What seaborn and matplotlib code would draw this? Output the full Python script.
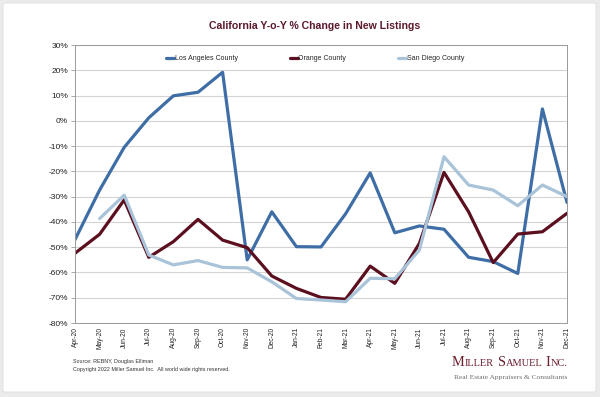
import numpy as np
import pandas as pd
import seaborn as sns
import matplotlib
matplotlib.use("Agg")
import matplotlib.pyplot as plt
from matplotlib.patches import FancyBboxPatch
from matplotlib.lines import Line2D

months = ["Apr-20", "May-20", "Jun-20", "Jul-20", "Aug-20", "Sep-20", "Oct-20",
          "Nov-20", "Dec-20", "Jan-21", "Feb-21", "Mar-21", "Apr-21", "May-21",
          "Jun-21", "Jul-21", "Aug-21", "Sep-21", "Oct-21", "Nov-21", "Dec-21"]
la = [-47, -27.4, -10.5, 1.2, 9.9, 11.3, 19.2, -55, -36, -49.8, -49.9, -36.8,
      -20.6, -44.3, -41.6, -42.9, -54, -55.7, -60.4, 4.7, -32.3]
orange = [-52.4, -44.9, -31.3, -54, -47.8, -39, -47.2, -50.2, -61.4, -66.3,
          -69.9, -70.6, -57.5, -64.3, -48.5, -20.4, -36, -56.1, -44.8, -43.9, -36.6]
sandiego = [np.nan, -38.7, -29.4, -53.1, -57, -55.3, -58, -58.2, -63.7, -70.3,
            -70.9, -71.6, -62.3, -62.5, -51.1, -14.2, -25.4, -27.4, -33.6, -25.4, -30]
series_names = ["Los Angeles County", "Orange County", "San Diego County"]
yticks = list(range(-80, 31, 10))

colors = {"Los Angeles County": "#3e6ea5", "Orange County": "#5b0f1f",
          "San Diego County": "#a9c3d8"}

rows = []
for name, vals in zip(series_names, [la, orange, sandiego]):
    for i, (m, v) in enumerate(zip(months, vals)):
        rows.append({"idx": i, "month": m, "value": v, "series": name})
df = pd.DataFrame(rows)

sns.set_theme(style="white")
plt.rcParams['font.family'] = ['Liberation Sans', 'DejaVu Sans']

W, H = 600, 397
fig = plt.figure(figsize=(W / 100, H / 100), dpi=100)
fig.patch.set_facecolor("#ebebeb")
bg = FancyBboxPatch((3 / W, 1 - 392 / H), 593 / W, 389 / H,
                    boxstyle="round,pad=0,rounding_size=0.004",
                    transform=fig.transFigure, facecolor="white", edgecolor="#dedede",
                    linewidth=0.6, zorder=-10)
fig.patches.append(bg)

ax = fig.add_axes([75 / W, 1 - 323 / H, (567 - 75) / W, (323 - 45) / H])
ax.set_facecolor("none")
sns.lineplot(data=df, x="idx", y="value", hue="series", palette=colors,
             linewidth=2.3, ax=ax, legend=False, sort=False)

ax.set_xlim(0, len(months) - 1)
ax.set_ylim(-80, 30)
ax.set_yticks(yticks)
ax.set_yticklabels([f"{t}%" for t in yticks], fontsize=6, color="#222222")
ax.set_xticks(range(len(months)))
ax.set_xticklabels(months, rotation=90, fontsize=4.8, color="#222222")
ax.set_xlabel("")
ax.set_ylabel("")
for t in yticks:
    ax.axhline(t, color="#d4d4d4", linewidth=0.8, zorder=0)
for s in ax.spines.values():
    s.set_color("#9a9a9a")
    s.set_linewidth(0.7)
ax.tick_params(axis="y", length=3, width=0.6, color="#9a9a9a", pad=2, left=True)
ax.tick_params(axis="x", length=0, pad=3)

handles = [Line2D([0], [0], color=colors[n], linewidth=2.3) for n in series_names]
ax.legend(handles, series_names, loc="center", ncol=3, frameon=False,
          fontsize=5.0, handlelength=1.15, handletextpad=0.1, columnspacing=7.45,
          borderpad=0, bbox_to_anchor=((315 - 75) / 492, 1 - (58.7 - 45) / 278))

fig.text(314.5 / W, 1 - 26 / H, "California Y-o-Y % Change in New Listings",
         ha="center", va="center", fontsize=7.6, fontweight="bold", color="#5a1a2c")

fig.text(73 / W, 1 - 361.7 / H, "Source: REBNY, Douglas Elliman", fontsize=3.85,
         color="#333333", va="center")
fig.text(73 / W, 1 - 370 / H, "Copyright 2022 Miller Samuel Inc.  All world wide rights reserved.",
         fontsize=3.85, color="#333333", va="center")

# Logo in small caps, laid out piece by piece from measured widths
serif = ["Liberation Serif", "DejaVu Serif"]
pieces = [("M", 1), ("ILLER", 0), (" ", 1), ("S", 1), ("AMUEL", 0), (" ", 1), ("I", 1), ("NC.", 0)]
big, small = 11.0, 8.0
fig.canvas.draw()
renderer = fig.canvas.get_renderer()

def measure(sz_big, sz_small):
    ws = []
    for txt, b in pieces:
        t = fig.text(0, 0, txt.replace(" ", "\u00a0"), fontsize=sz_big if b else sz_small, family=serif)
        ws.append(t.get_window_extent(renderer).width)
        t.remove()
    return ws

ws = measure(big, small)
scale = 116 / sum(ws)
big *= scale
small *= scale
ws = measure(big, small)
x = 452.0
for (txt, b), w in zip(pieces, ws):
    fig.text(x / W, 1 - 366.5 / H, txt.replace(" ", "\u00a0"), fontsize=big if b else small,
             family=serif, color="#6b1f2e", ha="left", va="baseline")
    x += w

t = fig.text(0, 0, "Real Estate Appraisers & Consultants", fontsize=6, family=serif)
w0 = t.get_window_extent(renderer).width
t.remove()
fig.text(567 / W, 1 - 377.5 / H, "Real Estate Appraisers & Consultants", ha="right", va="center",
         fontsize=6 * 115 / w0, color="#6e6e6e", family=serif)

fig.savefig("out.png", dpi=100, facecolor=fig.get_facecolor())
